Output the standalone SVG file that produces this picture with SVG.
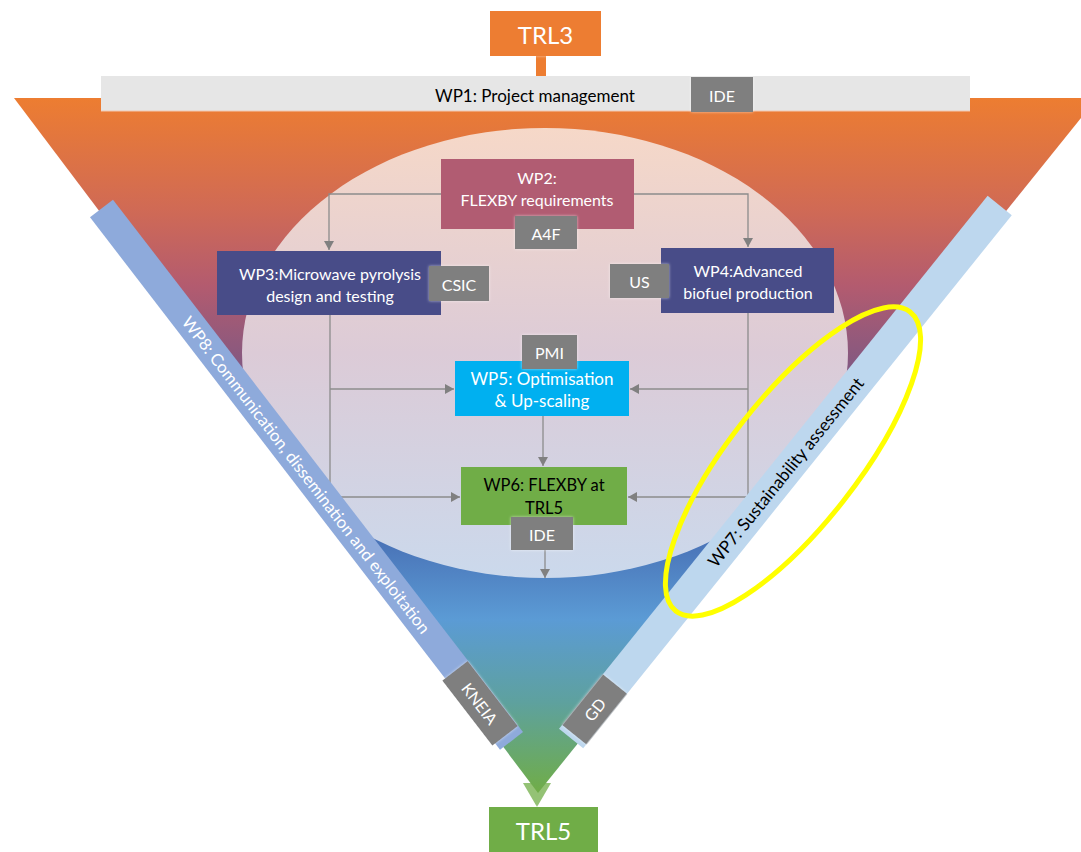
<svg xmlns="http://www.w3.org/2000/svg" width="1081" height="852" viewBox="0 0 1081 852">
<defs>
  <linearGradient id="triGrad" gradientUnits="userSpaceOnUse" x1="0" y1="98" x2="0" y2="793">
    <stop offset="0" stop-color="#ed7d31"/>
    <stop offset="0.16" stop-color="#d06a55"/>
    <stop offset="0.27" stop-color="#b35b6f"/>
    <stop offset="0.40" stop-color="#7e5883"/>
    <stop offset="0.55" stop-color="#5a68a8"/>
    <stop offset="0.64" stop-color="#4a74b8"/>
    <stop offset="0.75" stop-color="#5b9bd5"/>
    <stop offset="0.87" stop-color="#5ea19e"/>
    <stop offset="1" stop-color="#70ad47"/>
  </linearGradient>
  <linearGradient id="ellGrad" gradientUnits="userSpaceOnUse" x1="0" y1="128" x2="0" y2="578">
    <stop offset="0" stop-color="#f6d8c8"/>
    <stop offset="0.5" stop-color="#dccbd7"/>
    <stop offset="1" stop-color="#cbd9ec"/>
  </linearGradient>
  <marker id="arr" markerUnits="userSpaceOnUse" markerWidth="10" markerHeight="10" refX="9" refY="5" orient="auto">
    <path d="M0,0 L9,5 L0,10 z" fill="#808080"/>
  </marker>
  <filter id="glow" x="-20%" y="-20%" width="140%" height="140%">
    <feGaussianBlur in="SourceAlpha" stdDeviation="1.5" result="b"/>
    <feFlood flood-color="#ffffff" flood-opacity="0.6"/>
    <feComposite in2="b" operator="in" result="g"/>
    <feMerge><feMergeNode in="g"/><feMergeNode in="SourceGraphic"/></feMerge>
  </filter>
</defs>
<style>
  text { font-family: Lato, "Open Sans", "Liberation Sans", sans-serif; }
  .w { fill: #ffffff; }
  .k { fill: #000000; }
  .lbl { fill: #7f7f7f; }
  .conn { fill: none; stroke: #8c8c8c; stroke-width: 1.3; }
</style>

<!-- background funnel -->
<g id="funnel">
  <polygon points="523,783 551,783 537,807" fill="#70ad47" opacity="0.75"/>
  <polygon points="14,98 1097,98 538,793" fill="url(#triGrad)"/>
  <ellipse cx="545" cy="353" rx="303" ry="225" fill="url(#ellGrad)"/>
</g>

<!-- TRL3 -->
<g id="trl3">
  <rect x="536" y="55" width="10" height="22" fill="#ed7d31"/>
  <rect x="490" y="11" width="111" height="45" fill="#ed7d31" filter="url(#glow)"/>
  <text x="545.5" y="34" class="w" font-size="24" text-anchor="middle" dominant-baseline="central">TRL3</text>
</g>

<!-- WP1 -->
<g id="wp1">
  <rect x="101" y="76" width="869" height="35" fill="#e6e6e6"/>
  <line x1="101" y1="111" x2="970" y2="111" stroke="#f3c8b0" stroke-width="1"/>
  <text x="535" y="95" class="k" font-size="17" text-anchor="middle" dominant-baseline="central">WP1: Project management</text>
  <rect x="691" y="77" width="62" height="35" class="lbl" filter="url(#glow)"/>
  <text x="722" y="95" class="w" font-size="16" text-anchor="middle" dominant-baseline="central">IDE</text>
</g>

<!-- connectors -->
<g id="connectors">
  <path class="conn" d="M441,194 H329 V250" marker-end="url(#arr)"/>
  <path class="conn" d="M634,194 H748 V247" marker-end="url(#arr)"/>
  <path class="conn" d="M330,315 V497 H460" marker-end="url(#arr)"/>
  <path class="conn" d="M330,389 H454" marker-end="url(#arr)"/>
  <path class="conn" d="M748,313 V497 H628" marker-end="url(#arr)"/>
  <path class="conn" d="M748,389 H630" marker-end="url(#arr)"/>
  <path class="conn" d="M543,416 V466" marker-end="url(#arr)"/>
  <path class="conn" d="M545,550 V578" marker-end="url(#arr)"/>
</g>

<!-- WP2 -->
<g id="wp2">
  <rect x="441" y="159" width="193" height="70" fill="#b15c72"/>
  <text x="537" y="177" class="w" font-size="16" text-anchor="middle" dominant-baseline="central">WP2:</text>
  <text x="537" y="199" class="w" font-size="16" text-anchor="middle" dominant-baseline="central">FLEXBY requirements</text>
  <rect x="515" y="216" width="62" height="33" class="lbl" filter="url(#glow)"/>
  <text x="546" y="233" class="w" font-size="16" text-anchor="middle" dominant-baseline="central">A4F</text>
</g>

<!-- WP3 -->
<g id="wp3">
  <rect x="217" y="251" width="224" height="64" fill="#484c88"/>
  <text x="330" y="273" class="w" font-size="16" text-anchor="middle" dominant-baseline="central">WP3:Microwave pyrolysis</text>
  <text x="330" y="295" class="w" font-size="16" text-anchor="middle" dominant-baseline="central">design and testing</text>
  <rect x="429" y="266" width="60" height="35" class="lbl" filter="url(#glow)"/>
  <text x="459" y="284" class="w" font-size="16" text-anchor="middle" dominant-baseline="central">CSIC</text>
</g>

<!-- WP4 -->
<g id="wp4">
  <rect x="661" y="248" width="173" height="65" fill="#484c88"/>
  <text x="748" y="270" class="w" font-size="16" text-anchor="middle" dominant-baseline="central">WP4:Advanced</text>
  <text x="748" y="292" class="w" font-size="16" text-anchor="middle" dominant-baseline="central">biofuel production</text>
  <rect x="610" y="264" width="59" height="34" class="lbl" filter="url(#glow)"/>
  <text x="639.5" y="281" class="w" font-size="16" text-anchor="middle" dominant-baseline="central">US</text>
</g>

<!-- WP5 -->
<g id="wp5">
  <rect x="455" y="361" width="174" height="55" fill="#00b0f0"/>
  <text x="542" y="378" class="w" font-size="17" text-anchor="middle" dominant-baseline="central">WP5: Optimisation</text>
  <text x="542" y="400" class="w" font-size="17" text-anchor="middle" dominant-baseline="central">&amp; Up-scaling</text>
  <rect x="522" y="335" width="55" height="34" class="lbl" filter="url(#glow)"/>
  <text x="549.5" y="352" class="w" font-size="16" text-anchor="middle" dominant-baseline="central">PMI</text>
</g>

<!-- WP6 -->
<g id="wp6">
  <rect x="461" y="467" width="166" height="58" fill="#70ad47"/>
  <text x="544" y="485" class="k" font-size="16.5" text-anchor="middle" dominant-baseline="central">WP6: FLEXBY at</text>
  <text x="544" y="508" class="k" font-size="16.5" text-anchor="middle" dominant-baseline="central">TRL5</text>
  <rect x="511" y="517" width="62" height="33" class="lbl" filter="url(#glow)"/>
  <text x="542" y="534" class="w" font-size="16" text-anchor="middle" dominant-baseline="central">IDE</text>
</g>

<!-- WP8 bar -->
<g id="wp8" transform="translate(101.5,208.5) rotate(52.4)">
  <rect x="0" y="-14.5" width="672" height="29" fill="#8eaadb"/>
  <text x="336" y="0" class="w" font-size="16.8" text-anchor="middle" dominant-baseline="central">WP8: Communication, dissemination and exploitation</text>
  <rect x="582" y="-14" width="82" height="32" class="lbl" filter="url(#glow)"/>
  <text x="623" y="2" class="w" font-size="16" text-anchor="middle" dominant-baseline="central">KNEIA</text>
</g>

<!-- WP7 bar -->
<g id="wp7" transform="translate(999.7,205.5) rotate(128.8)">
  <rect x="0" y="-15.5" width="684" height="31" fill="#bdd7ee"/>
  <g transform="translate(342,0) rotate(180)">
    <text x="0" y="0" class="k" font-size="17.2" text-anchor="middle" dominant-baseline="central">WP7: Sustainability assessment</text>
  </g>
  <rect x="614" y="-15.5" width="65" height="31" class="lbl" filter="url(#glow)"/>
  <g transform="translate(646.5,0) rotate(180)">
    <text x="0" y="0" class="w" font-size="16" text-anchor="middle" dominant-baseline="central">GD</text>
  </g>
</g>

<!-- highlight ellipse -->
<g id="highlight">
  <ellipse cx="793" cy="461.5" rx="190" ry="64" transform="rotate(-51.9 793 461.5)" fill="none" stroke="#ffff00" stroke-width="5"/>
</g>

<!-- TRL5 -->
<g id="trl5">
  <rect x="489" y="807" width="109" height="50" fill="#70ad47" filter="url(#glow)"/>
  <text x="543.5" y="830" class="w" font-size="24" text-anchor="middle" dominant-baseline="central">TRL5</text>
</g>
</svg>
